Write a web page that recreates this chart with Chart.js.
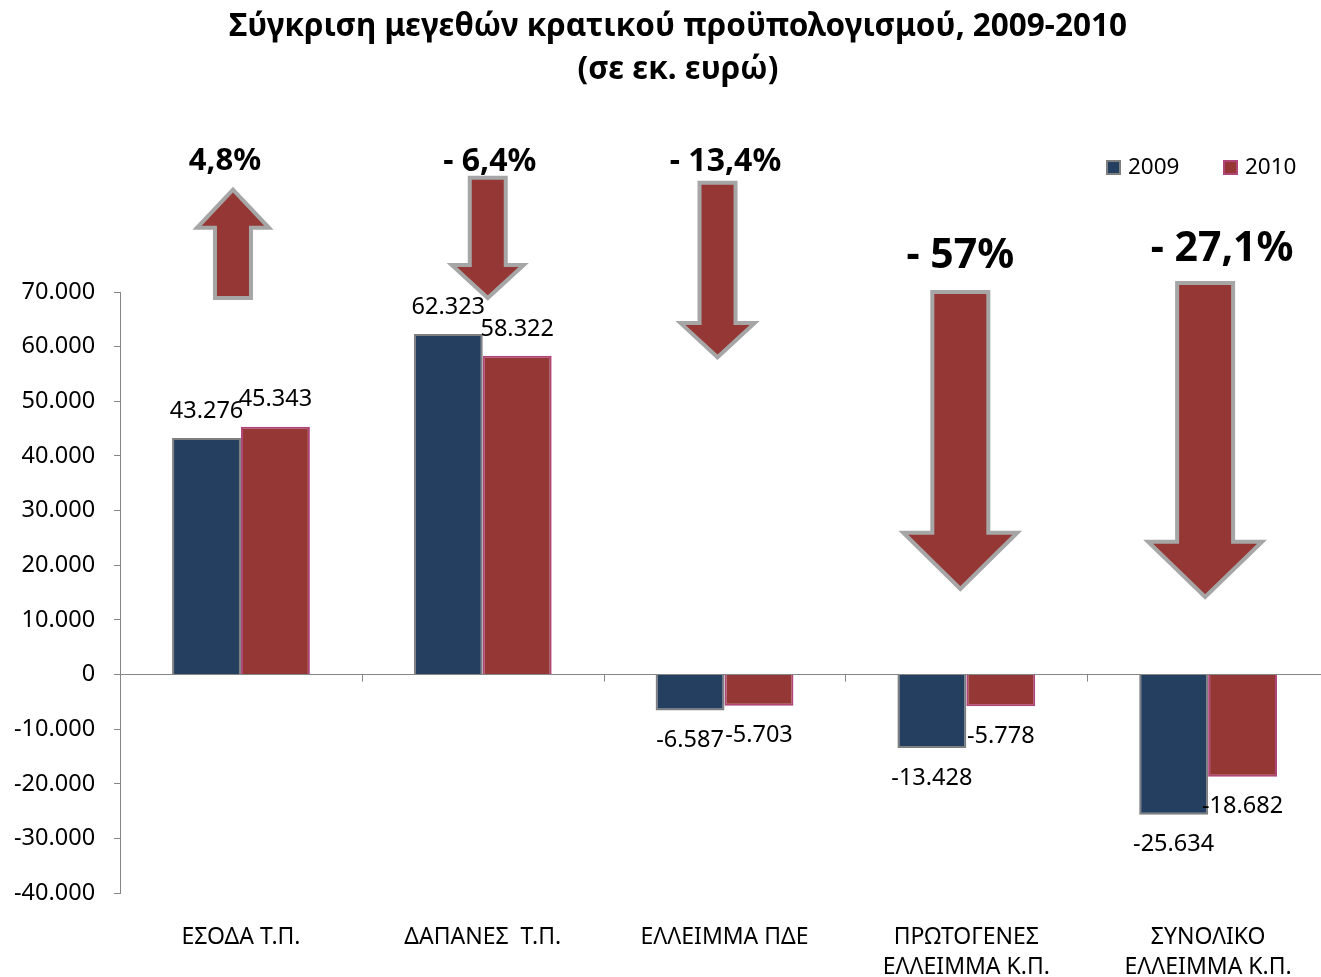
<!DOCTYPE html>
<html>
<head>
<meta charset="utf-8">
<script src="https://cdn.jsdelivr.net/npm/chart.js@4.4.0/dist/chart.umd.min.js"></script>
<style>
  html, body { margin: 0; padding: 0; background: #fff; overflow: hidden; }
  canvas { display: block; }
</style>
</head>
<body>
<canvas id="budgetChart" width="1330" height="1003"></canvas>
<script>
const categories = [
  ['ΕΣΟΔΑ Τ.Π.'],
  ['ΔΑΠΑΝΕΣ  Τ.Π.'],
  ['ΕΛΛΕΙΜΜΑ ΠΔΕ'],
  ['ΠΡΩΤΟΓΕΝΕΣ', 'ΕΛΛΕΙΜΜΑ Κ.Π.'],
  ['ΣΥΝΟΛΙΚΟ', 'ΕΛΛΕΙΜΜΑ Κ.Π.']
];
const values2009 = [43276, 62323, -6587, -13428, -25634];
const values2010 = [45343, 58322, -5703, -5778, -18682];
const changeLabels = ['4,8%', '- 6,4%', '- 13,4%', '- 57%', '- 27,1%'];
const seriesNames = ['2009', '2010'];
const titleLines = ['Σύγκριση μεγεθών κρατικού προϋπολογισμού, 2009-2010', '(σε εκ. ευρώ)'];

// arrow decorations: y in axis units, x as pixel offset from category centre
const arrows = [
  { dx: -8, tail: 68900, base: 81750, tip: 88720, shaft: 18, head: 36, textY: 93860, textDx: -16, size: 31 },
  { dx: 5, tail: 90920, base: 74960, tip: 68900, shaft: 18, head: 36, textY: 93860, textDx: 7, size: 32 },
  { dx: -7, tail: 90000, base: 64310, tip: 58070, shaft: 18, head: 37, textY: 93860, textDx: 1, size: 32 },
  { dx: -6, tail: 70000, base: 25960, tip: 15690, shaft: 28, head: 57, textY: 76610, textDx: -6, size: 41 },
  { dx: -3, tail: 71650, base: 24310, tip: 14220, shaft: 28, head: 57, textY: 77890, textDx: 14, size: 41 }
];

const FONT = "'Noto Sans', sans-serif";

function fmt(v) {
  const s = Math.abs(v).toString().replace(/\B(?=(\d{3})+(?!\d))/g, '.');
  return (v < 0 ? '-' : '') + s;
}

const decorations = {
  id: 'decorations',
  afterDatasetsDraw(chart) {
    const ctx = chart.ctx;
    const x = chart.scales.x, y = chart.scales.y;
    const zero = y.getPixelForValue(0);
    const step = x.getPixelForValue(1) - x.getPixelForValue(0);

    ctx.save();
    // title (drawn here so it can sit off-centre like the original)
    ctx.font = 'bold 31.5px ' + FONT;
    ctx.fillStyle = '#000';
    ctx.textAlign = 'center';
    ctx.textBaseline = 'middle';
    ctx.fillText(titleLines[0], 678, 27);
    ctx.fillText(titleLines[1], 678, 70);

    // small tick marks on the zero line between categories
    ctx.strokeStyle = '#868686';
    ctx.lineWidth = 1;
    for (let i = 1; i < categories.length; i++) {
      const px = Math.round(x.getPixelForValue(i) - step / 2) + 0.5;
      ctx.beginPath();
      ctx.moveTo(px, zero);
      ctx.lineTo(px, zero + 7);
      ctx.stroke();
    }

    // value labels
    ctx.font = '23.5px ' + FONT;
    chart.data.datasets.forEach((ds, di) => {
      chart.getDatasetMeta(di).data.forEach((bar, i) => {
        const v = ds.data[i];
        const ty = v >= 0 ? bar.y - 27 : bar.y + 30;
        ctx.fillText(fmt(v), bar.x, ty);
      });
    });

    // arrows with change labels
    arrows.forEach((a, i) => {
      const cx = x.getPixelForValue(i) + a.dx;
      const yt = y.getPixelForValue(a.tail);
      const yb = y.getPixelForValue(a.base);
      const yp = y.getPixelForValue(a.tip);
      ctx.beginPath();
      ctx.moveTo(cx - a.shaft, yt);
      ctx.lineTo(cx + a.shaft, yt);
      ctx.lineTo(cx + a.shaft, yb);
      ctx.lineTo(cx + a.head, yb);
      ctx.lineTo(cx, yp);
      ctx.lineTo(cx - a.head, yb);
      ctx.lineTo(cx - a.shaft, yb);
      ctx.closePath();
      ctx.fillStyle = '#953735';
      ctx.fill();
      ctx.lineWidth = 4;
      ctx.lineJoin = 'miter';
      ctx.strokeStyle = '#A6A6A6';
      ctx.stroke();

      ctx.font = 'bold ' + a.size + 'px ' + FONT;
      ctx.fillStyle = '#000';
      ctx.fillText(changeLabels[i], x.getPixelForValue(i) + a.textDx, y.getPixelForValue(a.textY));
    });

    // legend
    ctx.font = '22.5px ' + FONT;
    ctx.textAlign = 'left';
    const legendItems = [
      { x: 1107, fill: '#253F60', border: '#7F7F7F' },
      { x: 1224, fill: '#953735', border: '#B0457A' }
    ];
    legendItems.forEach((it, k) => {
      ctx.fillStyle = it.fill;
      ctx.fillRect(it.x, 161, 13, 13);
      ctx.lineWidth = 2;
      ctx.strokeStyle = it.border;
      ctx.strokeRect(it.x, 161, 13, 13);
      ctx.fillStyle = '#000';
      ctx.fillText(seriesNames[k], it.x + 21, 168);
    });
    ctx.restore();
  }
};

const ctx = document.getElementById('budgetChart').getContext('2d');
const chart = new Chart(ctx, {
  type: 'bar',
  data: {
    labels: categories,
    datasets: [{
      label: seriesNames[0],
      data: values2009,
      backgroundColor: '#253F60',
      borderColor: '#7F7F7F',
      borderWidth: 2
    }, {
      label: seriesNames[1],
      data: values2010,
      backgroundColor: '#953735',
      borderColor: '#B0457A',
      borderWidth: 2
    }]
  },
  options: {
    responsive: false,
    animation: false,
    layout: { padding: { left: -5, right: 1, top: 292, bottom: 0 } },
    datasets: { bar: { categoryPercentage: 0.57, barPercentage: 1 } },
    plugins: {
      legend: { display: false },
      tooltip: { enabled: false },
      title: { display: false }
    },
    scales: {
      x: {
        grid: { display: false },
        border: { display: false },
        ticks: {
          color: '#000',
          font: { family: FONT, size: 23, lineHeight: 1.3 },
          padding: 21,
          maxRotation: 0
        }
      },
      y: {
        min: -40000,
        max: 70000,
        border: { color: '#868686' },
        grid: {
          color: c => c.tick.value === 0 ? '#868686' : 'rgba(0,0,0,0)',
          tickColor: '#868686',
          tickLength: 6
        },
        ticks: {
          stepSize: 10000,
          color: '#000',
          font: { family: FONT, size: 23.5 },
          padding: 19,
          callback: v => fmt(v)
        }
      }
    }
  },
  plugins: [decorations]
});
</script>
</body>
</html>
